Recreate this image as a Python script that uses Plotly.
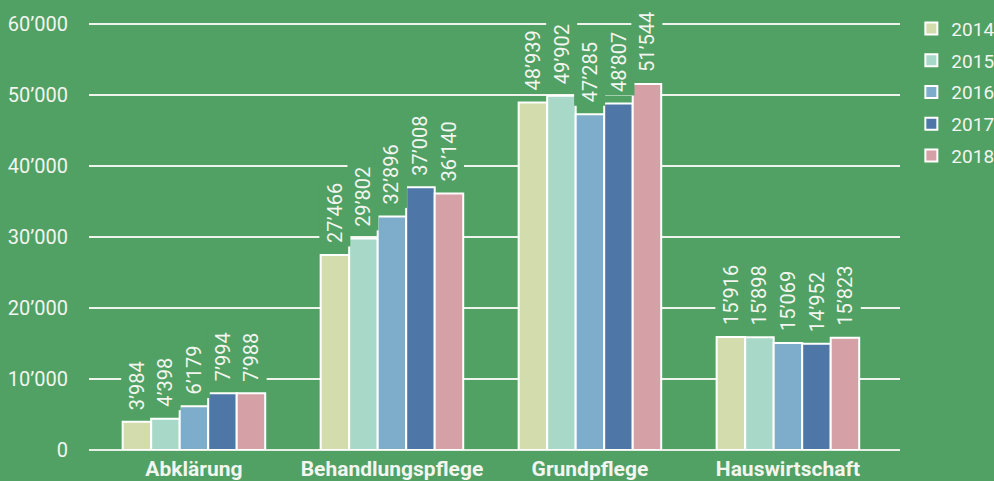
import plotly.graph_objects as go

categories = ["Abklärung", "Behandlungspflege", "Grundpflege", "Hauswirtschaft"]
years = ["2014", "2015", "2016", "2017", "2018"]
values = {
    "2014": [3984, 27466, 48939, 15916],
    "2015": [4398, 29802, 49902, 15898],
    "2016": [6179, 32896, 47285, 15069],
    "2017": [7994, 37008, 48807, 14952],
    "2018": [7988, 36140, 51544, 15823],
}
colors = ["#d3dcac", "#a8d8c8", "#7eadcb", "#4e77a8", "#d5a1a6"]
y_ticks = [0, 10000, 20000, 30000, 40000, 50000, 60000]

BG = "#50a163"
TXT = "#f2f5f0"
FONT = "Roboto"
bargap = 0.28
n = len(years)
bw = (1 - bargap) / n

def fmt(v):
    return f"{v:,}".replace(",", "’")

fig = go.Figure()
annotations = []
for j, yr in enumerate(years):
    fig.add_trace(go.Bar(
        x=categories, y=values[yr], name=yr, legendgroup=yr,
        marker=dict(color=colors[j], line=dict(color="white", width=2)),
    ))
    for i, v in enumerate(values[yr]):
        annotations.append(dict(
            x=i + (j - (n - 1) / 2) * bw, y=v, xref="x", yref="y",
            text=fmt(v), textangle=-90, showarrow=False,
            xanchor="center", yanchor="bottom", yshift=8,
            bgcolor=BG, borderpad=3,
            font=dict(family=FONT, size=20, color=TXT),
        ))

fig.update_layout(
    width=994, height=481,
    paper_bgcolor=BG, plot_bgcolor=BG,
    margin=dict(l=89, r=94, t=23, b=31, autoexpand=False),
    barmode="group", bargap=bargap, bargroupgap=0,
    separators=".’",
    font=dict(family=FONT, color=TXT, size=19),
    showlegend=True,
    legend=dict(x=1.014, y=1.031, xanchor="left", yanchor="top",
                font=dict(family=FONT, size=19, color=TXT),
                tracegroupgap=4, bgcolor="rgba(0,0,0,0)"),
    annotations=annotations,
)
fig.update_xaxes(
    range=[-0.53, 3.566], showgrid=False, zeroline=False, showline=False,
    ticks="", ticklabelstandoff=4,
    tickfont=dict(family=FONT, size=21, color=TXT, weight="bold"),
)
fig.update_yaxes(
    range=[0, 60150], tickvals=y_ticks, tickformat=",d",
    showgrid=True, gridcolor="#eef3ec", gridwidth=1.5,
    zeroline=True, zerolinecolor="#e6efe4", zerolinewidth=2,
    showline=False, ticks="", ticklabelstandoff=20,
    tickfont=dict(family=FONT, size=20, color=TXT),
)
fig.write_html("out.html")
